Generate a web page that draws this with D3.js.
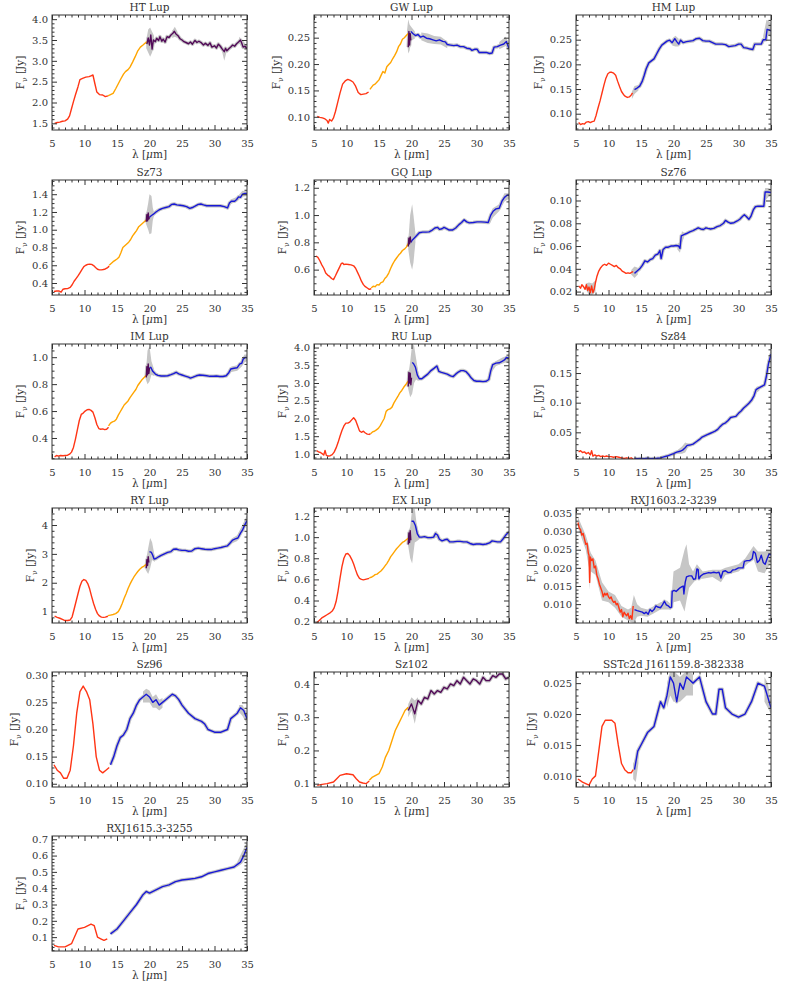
<!DOCTYPE html>
<html>
<head>
<meta charset="utf-8">
<script src="https://cdn.jsdelivr.net/npm/d3@7"></script>
<style>
  body { margin: 0; background: #fff; }
  text { font-family: "DejaVu Serif", serif; fill: #333; }
</style>
</head>
<body>
<div class="chart"></div>
<script>
// IRS spectra of Lupus sources, one small panel per star

// ---- data: [lambda, flux] per spectral module; bands are patches of [lambda, lo, hi] ----
var xTicks = [5, 10, 15, 20, 25, 30, 35];

// HT Lup
var htTicks = [1.5, 2.0, 2.5, 3.0, 3.5, 4.0];
var htRed = [[5.4,1.50],[5.8,1.52],[6.2,1.53],[6.6,1.55],[7.0,1.56],[7.4,1.60],[7.7,1.68],[8.0,1.85],[8.3,2.02],[8.6,2.18],[9.0,2.38],[9.3,2.55],[9.7,2.58],[10.2,2.61],[10.7,2.62],[11.0,2.64],[11.3,2.66],[11.6,2.45],[11.9,2.25],[12.3,2.19],[12.8,2.18],[13.2,2.14],[13.6,2.16]];
var htOrange = [[13.6,2.16],[14.0,2.19],[14.4,2.22],[14.8,2.33],[15.2,2.45],[15.6,2.57],[16.0,2.68],[16.3,2.74],[16.7,2.79],[17.0,2.85],[17.4,2.97],[17.8,3.10],[18.2,3.24],[18.6,3.33],[19.0,3.38],[19.3,3.42],[19.6,3.46]];
var htPurple = [[19.6,3.40],[19.8,3.55],[20.0,3.38],[20.2,3.62],[20.4,3.28],[20.6,3.50],[20.9,3.46],[21.1,3.54],[21.4,3.49],[21.6,3.58],[21.9,3.47],[22.1,3.52],[22.4,3.45],[22.7,3.58],[23.0,3.56],[23.3,3.62],[23.6,3.66],[23.8,3.71],[24.1,3.64],[24.4,3.60],[24.7,3.53],[25.0,3.50],[25.3,3.46],[25.6,3.44],[26.0,3.41],[26.3,3.45],[26.6,3.40],[27.0,3.49],[27.3,3.44],[27.6,3.47],[28.0,3.43],[28.3,3.38],[28.6,3.42],[29.0,3.37],[29.3,3.43],[29.6,3.33],[30.0,3.36],[30.3,3.31],[30.6,3.40],[30.9,3.35],[31.2,3.28],[31.5,3.22],[31.7,3.30],[31.9,3.24],[32.2,3.29],[32.5,3.33],[32.8,3.38],[33.1,3.35],[33.4,3.41],[33.7,3.45],[34.0,3.50],[34.2,3.42],[34.4,3.33],[34.7,3.35],[35.0,3.29]];
var htBand = [
  [[19.5,3.3,3.5],[19.8,3.2,3.75],[20.1,3.1,3.8],[20.4,3.2,3.7],[20.7,3.4,3.6]],
  [[23.5,3.55,3.72],[23.9,3.58,3.82],[24.3,3.55,3.7]],
  [[31.2,3.2,3.32],[31.5,3.0,3.3],[31.8,3.18,3.32]],
  [[33.8,3.42,3.58],[34.3,3.3,3.5],[34.8,3.25,3.4]]
];

// GW Lup
var gwTicks = [0.10, 0.15, 0.20, 0.25];
var gwRed = [[5.5,0.101],[5.9,0.099],[6.3,0.098],[6.7,0.096],[7.0,0.093],[7.2,0.088],[7.4,0.095],[7.7,0.092],[8.0,0.098],[8.3,0.110],[8.6,0.125],[9.0,0.145],[9.4,0.162],[9.8,0.168],[10.2,0.171],[10.6,0.169],[11.0,0.166],[11.4,0.158],[11.8,0.146],[12.2,0.142],[12.6,0.143],[13.0,0.144],[13.4,0.147]];
var gwOrange = [[13.6,0.152],[14.1,0.160],[14.4,0.162],[14.7,0.166],[15.0,0.170],[15.3,0.178],[15.6,0.186],[15.9,0.183],[16.2,0.195],[16.5,0.199],[16.8,0.203],[17.1,0.210],[17.4,0.216],[17.7,0.223],[18.0,0.233],[18.3,0.238],[18.6,0.247],[18.9,0.250],[19.2,0.254],[19.5,0.258]];
var gwPurple = [[19.5,0.232],[19.6,0.262],[19.7,0.236],[19.8,0.258],[19.9,0.245]];
var gwBlue = [[19.9,0.262],[20.2,0.258],[20.6,0.254],[21.0,0.256],[21.4,0.251],[21.8,0.253],[22.3,0.249],[22.8,0.248],[23.3,0.246],[23.8,0.244],[24.3,0.246],[24.8,0.243],[25.2,0.242],[25.5,0.237],[26.0,0.236],[26.5,0.235],[27.0,0.236],[27.5,0.233],[28.0,0.233],[28.5,0.230],[29.0,0.229],[29.3,0.226],[29.7,0.228],[30.1,0.228],[30.4,0.222],[31.0,0.222],[31.5,0.222],[32.0,0.220],[32.4,0.221],[32.7,0.232],[33.2,0.233],[33.7,0.236],[34.2,0.238],[34.6,0.243],[35.0,0.229]];
var gwBand = [
  [[19.3,0.245,0.262],[19.5,0.22,0.285],[19.7,0.225,0.275],[20.0,0.245,0.27],[20.5,0.248,0.262]],
  [[21.5,0.245,0.26],[22.5,0.24,0.258],[23.5,0.238,0.253],[24.5,0.237,0.252],[25.5,0.23,0.243]],
  [[33.5,0.228,0.242],[34.5,0.234,0.252],[35,0.222,0.237]]
];

// HM Lup
var hmTicks = [0.10, 0.15, 0.20, 0.25];
var hmRed = [[5.4,0.082],[5.7,0.078],[6.0,0.080],[6.3,0.079],[6.6,0.083],[6.9,0.084],[7.2,0.082],[7.5,0.084],[7.8,0.085],[8.1,0.097],[8.4,0.112],[8.7,0.126],[9.0,0.142],[9.3,0.158],[9.6,0.172],[9.9,0.181],[10.2,0.184],[10.5,0.184],[10.8,0.182],[11.1,0.178],[11.4,0.166],[11.7,0.155],[12.0,0.145],[12.3,0.139],[12.6,0.135],[12.9,0.133],[13.2,0.134],[13.5,0.138],[13.7,0.142]];
var hmBlue = [[14.0,0.149],[14.4,0.152],[14.8,0.156],[15.2,0.166],[15.5,0.178],[15.8,0.191],[16.2,0.203],[16.6,0.207],[17.0,0.211],[17.4,0.221],[17.8,0.231],[18.2,0.239],[18.6,0.243],[19.0,0.247],[19.4,0.249],[19.8,0.244],[20.2,0.252],[20.5,0.246],[20.8,0.241],[21.1,0.249],[21.5,0.244],[22.0,0.246],[22.5,0.247],[23.0,0.248],[23.5,0.252],[24.0,0.253],[24.5,0.248],[25.0,0.247],[25.5,0.247],[26.0,0.244],[26.5,0.241],[27.0,0.241],[27.5,0.241],[28.0,0.240],[28.5,0.236],[29.0,0.237],[29.5,0.238],[30.0,0.241],[30.4,0.241],[30.8,0.234],[31.3,0.233],[31.8,0.231],[32.2,0.230],[32.5,0.241],[33.0,0.241],[33.5,0.241],[33.8,0.250],[34.2,0.250],[34.4,0.271],[34.7,0.270],[35.0,0.268]];
var hmBand = [
  [[13.6,0.13,0.145],[14.0,0.14,0.156],[14.6,0.147,0.158]],
  [[19.8,0.238,0.252],[20.3,0.236,0.258],[20.8,0.236,0.252]],
  [[33.8,0.24,0.258],[34.3,0.255,0.29],[34.7,0.258,0.288],[35.0,0.255,0.282]]
];

// Sz73
var s73Ticks = [0.4, 0.6, 0.8, 1.0, 1.2, 1.4];
var s73Red = [[5.3,0.305],[5.7,0.31],[6.1,0.31],[6.4,0.297],[6.7,0.33],[7.0,0.335],[7.4,0.337],[7.8,0.35],[8.1,0.38],[8.4,0.42],[8.7,0.45],[9.0,0.48],[9.3,0.515],[9.6,0.55],[9.9,0.585],[10.2,0.60],[10.5,0.61],[10.8,0.613],[11.1,0.61],[11.4,0.596],[11.7,0.575],[12.0,0.555],[12.3,0.548],[12.6,0.548],[12.9,0.552],[13.2,0.558],[13.5,0.57],[13.8,0.59]];
var s73Orange = [[13.8,0.60],[14.1,0.62],[14.4,0.64],[14.7,0.655],[15.0,0.67],[15.3,0.69],[15.6,0.74],[15.9,0.80],[16.2,0.82],[16.5,0.84],[16.8,0.86],[17.1,0.89],[17.4,0.93],[17.7,0.96],[18.0,0.99],[18.3,1.03],[18.6,1.05],[18.9,1.07],[19.2,1.09],[19.5,1.11]];
var s73Purple = [[19.5,1.09],[19.6,1.17],[19.7,1.10],[19.8,1.19],[19.9,1.12],[20.0,1.14]];
var s73Blue = [[20.0,1.14],[20.3,1.16],[20.6,1.175],[21.0,1.20],[21.5,1.225],[22.0,1.24],[22.5,1.25],[23.0,1.26],[23.4,1.285],[23.8,1.29],[24.2,1.28],[24.7,1.275],[25.2,1.27],[25.7,1.26],[26.2,1.24],[26.6,1.25],[27.0,1.265],[27.5,1.285],[27.9,1.29],[28.3,1.28],[28.8,1.27],[29.5,1.27],[30.2,1.27],[30.9,1.27],[31.5,1.26],[32.0,1.245],[32.3,1.30],[32.6,1.32],[33.1,1.32],[33.4,1.34],[33.7,1.37],[34.0,1.365],[34.3,1.40],[34.7,1.41],[35.0,1.405]];
var s73Band = [
  [[19.4,1.08,1.14],[19.8,1.0,1.3],[20.0,0.95,1.4],[20.3,0.96,1.38],[20.5,1.1,1.25],[20.7,1.16,1.19]],
  [[32.0,1.23,1.26],[32.5,1.29,1.34],[33.5,1.32,1.37],[34.3,1.37,1.44],[35.0,1.38,1.43]]
];

// GQ Lup
var gqTicks = [0.6, 0.8, 1.0, 1.2];
var gqRed = [[5.3,0.70],[5.6,0.69],[5.9,0.665],[6.2,0.635],[6.5,0.61],[6.8,0.575],[7.1,0.56],[7.4,0.55],[7.7,0.535],[8.0,0.527],[8.3,0.555],[8.6,0.585],[8.9,0.615],[9.2,0.645],[9.4,0.648],[9.6,0.638],[9.9,0.64],[10.3,0.638],[10.7,0.635],[11.1,0.628],[11.4,0.61],[11.7,0.58],[12.0,0.55],[12.3,0.515],[12.6,0.49],[12.9,0.475],[13.2,0.465],[13.5,0.455],[13.8,0.46]];
var gqOrange = [[13.8,0.465],[14.1,0.478],[14.4,0.475],[14.7,0.49],[15.0,0.487],[15.3,0.505],[15.6,0.51],[15.9,0.535],[16.2,0.55],[16.5,0.575],[16.8,0.61],[17.1,0.64],[17.4,0.665],[17.7,0.685],[18.0,0.705],[18.3,0.72],[18.6,0.74],[18.9,0.75],[19.2,0.765],[19.5,0.79]];
var gqPurple = [[19.5,0.77],[19.6,0.83],[19.7,0.79],[19.8,0.84],[19.9,0.80]];
var gqBlue = [[19.9,0.80],[20.1,0.815],[20.4,0.83],[20.8,0.85],[21.2,0.87],[21.7,0.875],[22.2,0.875],[22.7,0.877],[23.2,0.89],[23.6,0.905],[24.0,0.91],[24.3,0.895],[24.7,0.90],[25.0,0.91],[25.4,0.9],[25.8,0.89],[26.3,0.89],[26.8,0.905],[27.3,0.93],[27.7,0.945],[28.1,0.965],[28.5,0.95],[28.9,0.943],[29.5,0.945],[30.1,0.95],[30.7,0.95],[31.3,0.948],[31.8,0.945],[32.2,1.0],[32.6,1.03],[33.0,1.045],[33.5,1.05],[33.9,1.1],[34.3,1.13],[34.7,1.145],[35.0,1.145]];
var gqBand = [
  [[19.5,0.75,0.81],[19.8,0.65,1.0],[20.1,0.6,1.08],[20.3,0.65,1.0],[20.6,0.8,0.87]],
  [[32.0,0.93,0.99],[32.5,0.98,1.05],[33.5,1.03,1.08],[34.3,1.1,1.16],[35.0,1.12,1.16]]
];

// Sz76
var s76Ticks = [0.02, 0.04, 0.06, 0.08, 0.10];
var s76Red = [[5.4,0.025],[5.7,0.023],[5.9,0.026],[6.2,0.024],[6.4,0.022],[6.6,0.026],[6.8,0.021],[7.0,0.024],[7.2,0.019],[7.4,0.025],[7.6,0.019],[7.8,0.022],[8.0,0.028],[8.2,0.033],[8.5,0.038],[8.8,0.041],[9.1,0.043],[9.4,0.044],[9.7,0.043],[10.0,0.045],[10.3,0.044],[10.6,0.043],[10.9,0.042],[11.2,0.043],[11.5,0.041],[11.8,0.040],[12.1,0.038],[12.4,0.037],[12.7,0.036],[13.0,0.0365],[13.3,0.036],[13.6,0.037],[13.8,0.0375]];
var s76Blue = [[14.0,0.036],[14.4,0.038],[14.8,0.040],[15.2,0.043],[15.6,0.047],[16.0,0.046],[16.4,0.048],[16.8,0.049],[17.2,0.052],[17.6,0.053],[17.9,0.056],[18.1,0.049],[18.4,0.057],[18.8,0.059],[19.2,0.059],[19.6,0.060],[20.0,0.060],[20.4,0.0605],[20.8,0.060],[21.0,0.058],[21.2,0.069],[21.6,0.070],[22.0,0.071],[22.5,0.0725],[23.0,0.0735],[23.5,0.075],[23.8,0.076],[24.2,0.075],[24.6,0.0745],[25.0,0.076],[25.3,0.0755],[25.7,0.075],[26.2,0.0755],[26.7,0.077],[27.2,0.078],[27.7,0.080],[28.0,0.0825],[28.4,0.081],[28.8,0.080],[29.3,0.0805],[29.8,0.082],[30.2,0.0835],[30.6,0.086],[30.9,0.0875],[31.2,0.086],[31.6,0.0835],[31.9,0.086],[32.3,0.092],[32.6,0.0945],[33.0,0.095],[33.5,0.095],[33.9,0.095],[34.1,0.1075],[34.5,0.1075],[35.0,0.107]];
var s76Band = [
  [[6.5,0.022,0.027],[7.0,0.017,0.028],[7.5,0.017,0.027],[8.0,0.02,0.03]],
  [[13.5,0.035,0.039],[14.0,0.032,0.042],[14.5,0.035,0.041]],
  [[20.6,0.057,0.062],[21.0,0.054,0.063],[21.3,0.063,0.073],[21.6,0.067,0.072]],
  [[33.8,0.092,0.098],[34.1,0.1,0.111],[34.6,0.103,0.111],[35,0.104,0.11]]
];

// IM Lup
var imTicks = [0.4, 0.6, 0.8, 1.0];
var imRed = [[5.4,0.26],[5.7,0.27],[6.0,0.265],[6.3,0.27],[6.7,0.268],[7.0,0.27],[7.4,0.272],[7.7,0.28],[8.0,0.295],[8.3,0.33],[8.6,0.39],[8.9,0.46],[9.2,0.53],[9.5,0.575],[9.8,0.585],[10.1,0.60],[10.4,0.61],[10.7,0.612],[11.0,0.605],[11.3,0.592],[11.6,0.55],[11.9,0.50],[12.2,0.47],[12.5,0.465],[12.8,0.468],[13.1,0.462],[13.4,0.465],[13.7,0.48]];
var imOrange = [[13.7,0.49],[14.0,0.51],[14.3,0.52],[14.6,0.525],[14.9,0.54],[15.2,0.57],[15.5,0.595],[15.8,0.62],[16.1,0.645],[16.4,0.66],[16.7,0.675],[17.0,0.70],[17.3,0.72],[17.6,0.74],[17.9,0.76],[18.2,0.79],[18.5,0.81],[18.8,0.83],[19.1,0.845],[19.4,0.86],[19.6,0.868]];
var imPurple = [[19.5,0.85],[19.6,0.93],[19.7,0.87],[19.8,0.95],[19.9,0.88],[20.0,0.92]];
var imBlue = [[20.0,0.92],[20.2,0.925],[20.5,0.895],[20.9,0.875],[21.3,0.865],[21.8,0.86],[22.3,0.86],[22.8,0.862],[23.3,0.87],[23.7,0.878],[24.1,0.888],[24.5,0.876],[25.0,0.868],[25.5,0.86],[26.0,0.852],[26.3,0.845],[26.7,0.852],[27.2,0.862],[27.7,0.868],[28.2,0.866],[28.8,0.862],[29.3,0.858],[29.8,0.858],[30.3,0.86],[30.8,0.857],[31.3,0.857],[31.8,0.862],[32.2,0.885],[32.5,0.912],[33.0,0.918],[33.5,0.922],[33.9,0.95],[34.2,0.955],[34.4,0.985],[34.7,0.998],[35.0,0.997]];
var imBand = [
  [[19.4,0.84,0.87],[19.7,0.8,1.05],[20.0,0.82,1.08],[20.3,0.87,0.97],[20.7,0.86,0.91]],
  [[32.2,0.87,0.9],[32.6,0.89,0.93],[33.5,0.9,0.94],[34.2,0.93,0.98],[34.6,0.96,1.02],[35,0.97,1.02]]
];

// RU Lup
var ruTicks = [1.0, 1.5, 2.0, 2.5, 3.0, 3.5, 4.0];
var ruRed = [[5.4,1.09],[5.7,1.06],[6.0,1.04],[6.3,1.0],[6.5,0.97],[6.7,1.10],[6.9,0.96],[7.2,0.94],[7.5,0.95],[7.8,0.98],[8.1,1.05],[8.4,1.17],[8.7,1.32],[9.0,1.50],[9.3,1.66],[9.6,1.79],[9.9,1.87],[10.2,1.87],[10.5,1.90],[10.8,1.96],[11.1,2.02],[11.4,1.95],[11.7,1.80],[12.0,1.65],[12.3,1.61],[12.6,1.64],[12.9,1.59],[13.2,1.56],[13.5,1.55],[13.7,1.57]];
var ruOrange = [[13.7,1.57],[14.0,1.62],[14.3,1.64],[14.6,1.68],[14.9,1.72],[15.2,1.80],[15.5,1.90],[15.8,2.0],[16.1,2.2],[16.4,2.25],[16.7,2.27],[17.0,2.32],[17.3,2.44],[17.6,2.53],[17.9,2.62],[18.2,2.72],[18.5,2.79],[18.8,2.88],[19.1,2.95],[19.4,3.03],[19.6,3.07]];
var ruPurple = [[19.5,2.9],[19.6,3.3],[19.7,3.0],[19.8,3.28],[19.9,2.95],[20.0,3.15]];
var ruBlue = [[20.1,3.58],[20.3,3.55],[20.6,3.45],[20.9,3.22],[21.2,3.12],[21.6,3.12],[22.0,3.18],[22.5,3.25],[23.0,3.35],[23.5,3.42],[23.9,3.48],[24.2,3.33],[24.6,3.30],[25.0,3.28],[25.5,3.25],[26.0,3.20],[26.4,3.18],[26.8,3.25],[27.2,3.31],[27.6,3.35],[28.0,3.35],[28.4,3.32],[28.8,3.24],[29.2,3.14],[29.6,3.07],[30.0,3.05],[30.5,3.05],[31.0,3.04],[31.5,3.05],[31.9,3.10],[32.2,3.35],[32.5,3.52],[33.0,3.56],[33.5,3.57],[34.0,3.62],[34.3,3.65],[34.6,3.72],[35.0,3.70]];
var ruBand = [
  [[19.4,2.9,3.1],[19.8,2.6,3.6],[20.1,2.7,4.1],[20.4,3.0,4.05],[20.7,3.1,3.7],[21.1,3.05,3.25]],
  [[32.3,3.3,3.5],[33,3.48,3.62],[34,3.55,3.72],[35,3.6,3.78]]
];

// Sz84
var s84Ticks = [0.05, 0.10, 0.15];
var s84Red = [[5.4,0.017],[5.7,0.019],[6.0,0.016],[6.3,0.017],[6.6,0.014],[6.9,0.016],[7.2,0.012],[7.4,0.019],[7.6,0.010],[7.9,0.012],[8.2,0.010],[8.5,0.011],[8.8,0.009],[9.1,0.010],[9.4,0.009],[9.7,0.010],[10.0,0.009],[10.4,0.009],[10.8,0.008],[11.2,0.009],[11.6,0.008],[12.0,0.007],[12.4,0.006],[12.8,0.007],[13.2,0.006],[13.5,0.007],[13.8,0.005]];
var s84Blue = [[14.0,0.006],[14.5,0.0055],[15.0,0.006],[15.5,0.0055],[16.0,0.0065],[16.5,0.0055],[17.0,0.006],[17.5,0.0062],[18.0,0.0068],[18.5,0.0085],[19.0,0.010],[19.5,0.012],[20.0,0.014],[20.5,0.0165],[21.0,0.018],[21.4,0.020],[21.8,0.024],[22.1,0.028],[22.5,0.0285],[23.0,0.030],[23.5,0.034],[24.0,0.038],[24.4,0.042],[24.8,0.044],[25.2,0.046],[25.6,0.048],[26.0,0.050],[26.4,0.052],[26.8,0.055],[27.2,0.060],[27.6,0.064],[28.0,0.066],[28.4,0.070],[28.8,0.075],[29.2,0.076],[29.6,0.077],[30.0,0.082],[30.4,0.086],[30.8,0.091],[31.2,0.095],[31.6,0.099],[32.0,0.104],[32.4,0.112],[32.7,0.122],[33.0,0.124],[33.5,0.127],[34.0,0.13],[34.3,0.145],[34.6,0.165],[35.0,0.182]];
var s84Band = [
  [[20.5,0.014,0.019],[21.3,0.014,0.026],[21.8,0.016,0.033],[22.2,0.024,0.031],[22.5,0.026,0.03]],
  [[32.3,0.108,0.118],[32.8,0.117,0.127],[33.2,0.12,0.128]],
  [[34.0,0.126,0.135],[34.5,0.15,0.172],[35,0.172,0.19]]
];

// RY Lup
var ryTicks = [1, 2, 3, 4];
var ryRed = [[5.4,0.84],[5.8,0.80],[6.2,0.77],[6.6,0.73],[7.0,0.69],[7.4,0.69],[7.8,0.71],[8.1,0.82],[8.4,1.08],[8.7,1.35],[9.0,1.62],[9.3,1.88],[9.6,2.05],[9.9,2.11],[10.2,2.08],[10.5,1.97],[10.8,1.78],[11.1,1.52],[11.4,1.28],[11.7,1.08],[12.0,0.93],[12.3,0.85],[12.6,0.81],[12.9,0.80],[13.2,0.81],[13.6,0.84]];
var ryOrange = [[13.6,0.86],[14.0,0.88],[14.4,0.90],[14.8,0.93],[15.2,1.0],[15.5,1.12],[15.8,1.28],[16.1,1.46],[16.4,1.62],[16.7,1.8],[17.0,1.95],[17.3,2.08],[17.6,2.2],[17.9,2.3],[18.2,2.39],[18.5,2.47],[18.8,2.53],[19.1,2.57],[19.4,2.62],[19.6,2.66]];
var ryPurple = [[19.5,2.5],[19.6,2.8],[19.7,2.6],[19.8,2.9],[19.9,2.7]];
var ryBlue = [[20.0,3.08],[20.3,3.05],[20.5,2.95],[20.7,2.82],[21.0,2.84],[21.4,2.9],[21.8,2.95],[22.3,3.0],[22.8,3.05],[23.3,3.08],[23.7,3.16],[24.1,3.17],[24.5,3.14],[25.0,3.12],[25.5,3.12],[26.0,3.09],[26.5,3.1],[27.0,3.18],[27.5,3.2],[28.0,3.18],[28.5,3.16],[29.0,3.15],[29.5,3.15],[30.0,3.18],[30.5,3.2],[31.0,3.22],[31.5,3.25],[32.0,3.28],[32.4,3.38],[32.8,3.48],[33.2,3.52],[33.6,3.55],[34.0,3.72],[34.3,3.82],[34.6,3.98],[35.0,4.15]];
var ryBand = [
  [[19.4,2.45,2.7],[19.8,2.3,3.2],[20.1,2.5,3.55],[20.4,2.8,3.4],[20.8,2.72,2.92]],
  [[32.2,3.25,3.35],[32.8,3.38,3.55],[33.5,3.45,3.65],[34.5,3.85,4.1],[35,4.0,4.35]]
];

// EX Lup
var exTicks = [0.2, 0.4, 0.6, 0.8, 1.0, 1.2];
var exRed = [[5.4,0.19],[5.8,0.21],[6.2,0.235],[6.6,0.25],[7.0,0.265],[7.4,0.28],[7.8,0.30],[8.1,0.33],[8.4,0.39],[8.7,0.49],[9.0,0.61],[9.3,0.72],[9.6,0.80],[9.9,0.84],[10.2,0.845],[10.5,0.825],[10.8,0.79],[11.1,0.745],[11.4,0.69],[11.7,0.64],[12.0,0.61],[12.3,0.60],[12.6,0.595],[12.9,0.60],[13.2,0.605],[13.5,0.61]];
var exOrange = [[13.5,0.615],[13.8,0.62],[14.1,0.63],[14.4,0.645],[14.7,0.65],[15.0,0.665],[15.3,0.68],[15.6,0.70],[15.9,0.725],[16.2,0.75],[16.5,0.78],[16.8,0.815],[17.1,0.84],[17.4,0.865],[17.7,0.89],[18.0,0.91],[18.3,0.93],[18.6,0.95],[18.9,0.96],[19.2,0.975],[19.5,0.99]];
var exPurple = [[19.5,0.93],[19.6,1.04],[19.7,0.95],[19.8,1.06],[19.9,0.97]];
var exBlue = [[20.0,1.15],[20.3,1.15],[20.6,1.11],[20.9,1.03],[21.2,1.0],[21.6,1.0],[22.0,1.005],[22.5,0.995],[23.0,0.995],[23.4,1.0],[23.7,1.035],[24.0,1.02],[24.3,0.98],[24.7,0.965],[25.1,0.975],[25.5,0.98],[25.9,0.955],[26.4,0.955],[27.0,0.96],[27.5,0.96],[28.0,0.955],[28.5,0.955],[29.0,0.94],[29.5,0.93],[30.0,0.935],[30.5,0.935],[31.0,0.93],[31.5,0.935],[32.0,0.945],[32.4,0.965],[32.8,0.96],[33.2,0.955],[33.7,0.955],[34.1,0.985],[34.5,1.02],[35.0,1.05]];
var exBand = [
  [[19.4,0.95,1.02],[19.8,0.8,1.1],[20.1,0.75,1.27],[20.5,0.95,1.27],[20.8,0.96,1.12],[21.2,0.98,1.02]],
  [[23.5,0.99,1.03],[23.8,1.0,1.06],[24.1,0.98,1.03]]
];

// RXJ1603.2-3239
var rx3Ticks = [0.010, 0.015, 0.020, 0.025, 0.030, 0.035];
var rx3Red = [[5.3,0.0325],[5.5,0.031],[5.7,0.0305],[5.9,0.029],[6.1,0.0295],[6.3,0.028],[6.5,0.0265],[6.7,0.0268],[6.9,0.024],[7.0,0.0235],[7.1,0.016],[7.2,0.023],[7.4,0.022],[7.6,0.0225],[7.8,0.020],[8.0,0.0205],[8.2,0.018],[8.4,0.017],[8.6,0.0155],[8.8,0.0145],[9.0,0.0135],[9.2,0.012],[9.4,0.013],[9.6,0.0125],[9.8,0.013],[10.0,0.012],[10.2,0.0115],[10.4,0.012],[10.6,0.011],[10.8,0.0105],[11.0,0.0108],[11.2,0.0098],[11.4,0.0102],[11.6,0.009],[11.8,0.0078],[12.0,0.0085],[12.2,0.0065],[12.4,0.0078],[12.6,0.0072],[12.8,0.0068],[13.0,0.0075],[13.2,0.006],[13.4,0.0068],[13.6,0.0058],[13.8,0.0095]];
var rx3Blue = [[14.0,0.0085],[14.4,0.0082],[14.8,0.008],[15.2,0.0078],[15.5,0.0074],[15.8,0.0078],[16.1,0.0072],[16.4,0.0085],[16.7,0.008],[17.0,0.0085],[17.3,0.0095],[17.6,0.0092],[18.0,0.009],[18.3,0.0098],[18.6,0.0108],[18.9,0.0098],[19.2,0.0095],[19.5,0.009],[19.7,0.0092],[19.8,0.0135],[20.1,0.0138],[20.4,0.0135],[20.7,0.014],[21.0,0.0145],[21.3,0.0148],[21.5,0.015],[21.6,0.0128],[21.8,0.016],[22.0,0.0175],[22.4,0.0178],[22.8,0.0178],[23.1,0.0168],[23.4,0.017],[23.6,0.0197],[23.8,0.0195],[23.9,0.017],[24.2,0.0178],[24.6,0.0183],[25.0,0.0185],[25.4,0.0187],[25.8,0.0186],[26.2,0.0188],[26.6,0.0186],[27.0,0.0188],[27.3,0.0172],[27.6,0.019],[28.0,0.0192],[28.4,0.0187],[28.8,0.0188],[29.1,0.0194],[29.5,0.0195],[30.0,0.020],[30.4,0.020],[30.7,0.020],[30.9,0.0218],[31.3,0.022],[31.7,0.022],[32.1,0.0225],[32.3,0.0245],[32.6,0.024],[32.9,0.0215],[33.2,0.022],[33.5,0.0235],[33.8,0.0215],[34.1,0.021],[34.4,0.0225],[34.7,0.0238],[35.0,0.0236]];
var rx3Band = [
  [[5.3,0.031,0.034],[6.5,0.025,0.029],[7.0,0.02,0.026],[7.1,0.014,0.025],[7.3,0.019,0.024],[8,0.018,0.022],[9,0.011,0.016],[10,0.0105,0.0135],[11,0.009,0.0125],[12,0.0065,0.0095],[13,0.0055,0.0085],[13.5,0.005,0.009],[13.9,0.0048,0.0125],[14.4,0.0065,0.010],[15,0.0068,0.009],[16,0.0065,0.0085],[17,0.0075,0.0095],[18,0.0085,0.0105],[19,0.0085,0.011],[19.6,0.0085,0.010],[20,0.0105,0.019],[21,0.011,0.02],[21.7,0.008,0.025],[22,0.011,0.0265],[22.4,0.0145,0.021],[23,0.0158,0.019],[23.6,0.017,0.021],[24.5,0.017,0.019],[26,0.0175,0.0195],[27.3,0.016,0.0195],[28,0.018,0.020],[30,0.019,0.021],[31,0.0205,0.0225],[32.3,0.0225,0.026],[33,0.019,0.0245],[34,0.0185,0.0245],[35,0.0215,0.025]]
];

// Sz96
var s96Ticks = [0.10, 0.15, 0.20, 0.25, 0.30];
var s96Red = [[5.3,0.135],[5.8,0.125],[6.3,0.12],[6.8,0.11],[7.3,0.11],[7.8,0.125],[8.3,0.17],[8.8,0.23],[9.3,0.27],[9.8,0.28],[10.3,0.27],[10.8,0.255],[11.3,0.21],[11.8,0.15],[12.3,0.125],[12.8,0.12],[13.3,0.125],[13.8,0.13]];
var s96Blue = [[14.0,0.135],[14.5,0.15],[15.0,0.17],[15.5,0.185],[16.0,0.19],[16.5,0.2],[17.0,0.22],[17.5,0.23],[18.0,0.245],[18.5,0.255],[19.0,0.26],[19.5,0.265],[20.0,0.26],[20.5,0.25],[21.0,0.255],[21.5,0.245],[22.0,0.25],[22.5,0.255],[23.0,0.26],[23.5,0.265],[24.0,0.262],[24.5,0.255],[25.0,0.245],[26.0,0.23],[27.0,0.22],[28.0,0.215],[28.5,0.21],[29.0,0.2],[30.0,0.195],[31.0,0.195],[32.0,0.2],[32.5,0.22],[33.0,0.225],[33.5,0.23],[34.0,0.24],[34.5,0.235],[35.0,0.22]];
var s96Band = [
  [[19,0.25,0.27],[19.5,0.25,0.275],[20,0.25,0.272],[20.5,0.24,0.26],[21,0.24,0.265],[21.5,0.235,0.255],[22,0.24,0.258]],
  [[33.8,0.232,0.245],[34.3,0.225,0.245],[35,0.21,0.23]]
];

// Sz102
var s102Ticks = [0.1, 0.2, 0.3, 0.4];
var s102Red = [[5.5,0.095],[6.0,0.097],[7.0,0.1],[8.0,0.105],[8.5,0.115],[9.0,0.125],[10.0,0.13],[11.0,0.127],[11.5,0.115],[12.0,0.105],[12.5,0.102],[13.0,0.1],[13.5,0.108]];
var s102Orange = [[13.5,0.11],[14.0,0.12],[15.0,0.13],[15.5,0.15],[16.0,0.18],[16.5,0.2],[17.0,0.23],[17.5,0.26],[18.0,0.28],[18.5,0.3],[19.0,0.32],[19.5,0.33]];
var s102Purple = [[19.5,0.32],[20.0,0.34],[20.5,0.31],[21.0,0.35],[21.5,0.34],[22.0,0.36],[22.5,0.355],[23.0,0.38],[23.5,0.37],[24.0,0.38],[24.5,0.375],[25.0,0.39],[25.5,0.385],[26.0,0.4],[26.5,0.395],[27.0,0.41],[27.5,0.40],[28.0,0.42],[28.5,0.41],[29.0,0.4],[29.5,0.415],[30.0,0.41],[30.5,0.40],[31.0,0.42],[31.5,0.41],[32.0,0.41],[32.5,0.425],[33.0,0.42],[33.5,0.43],[34.0,0.43],[34.5,0.415],[35.0,0.42]];
var s102Band = [[[19.5,0.3,0.34],[20,0.32,0.36],[20.5,0.28,0.35],[21,0.33,0.36]]];

// SSTc2d J161159.8-382338
var sstTicks = [0.010, 0.015, 0.020, 0.025];
var sstRed = [[5.3,0.0095],[6.0,0.009],[7.0,0.0085],[7.5,0.0095],[8.0,0.01],[8.5,0.014],[9.0,0.018],[9.5,0.019],[10.0,0.019],[10.5,0.019],[11.0,0.0185],[11.5,0.015],[12.0,0.012],[12.5,0.011],[13.0,0.0105],[13.5,0.0105],[13.8,0.011]];
var sstBlue = [[14.0,0.011],[14.5,0.014],[15.0,0.015],[16.0,0.017],[17.0,0.018],[17.5,0.02],[18.0,0.022],[18.5,0.021],[19.0,0.023],[19.5,0.026],[20.0,0.025],[20.5,0.022],[21.0,0.025],[21.5,0.024],[22.0,0.026],[22.5,0.0255],[23.0,0.025],[24.0,0.026],[24.5,0.024],[25.0,0.022],[26.0,0.02],[26.5,0.02],[27.0,0.024],[27.5,0.024],[28.0,0.021],[29.0,0.02],[30.0,0.0195],[31.0,0.02],[32.0,0.022],[33.0,0.025],[34.0,0.0245],[35.0,0.021]];
var sstBand = [
  [[13.8,0.0095,0.012],[14.2,0.009,0.013],[14.6,0.012,0.015]],
  [[19,0.021,0.025],[19.5,0.023,0.027],[20,0.022,0.027],[21,0.022,0.026],[22,0.023,0.027],[23,0.023,0.0265]],
  [[34,0.022,0.026],[34.5,0.021,0.025],[35,0.02,0.022]]
];

// RXJ1615.3-3255
var rx5Ticks = [0.1, 0.2, 0.3, 0.4, 0.5, 0.6, 0.7];
var rx5Red = [[5.3,0.05],[6.0,0.04],[7.0,0.04],[8.0,0.06],[9.0,0.15],[10.0,0.16],[11.0,0.18],[11.5,0.17],[12.0,0.1],[12.5,0.09],[13.0,0.08],[13.5,0.09]];
var rx5Blue = [[14.0,0.12],[15.0,0.15],[16.0,0.2],[17.0,0.25],[18.0,0.3],[19.0,0.36],[19.5,0.38],[20.0,0.37],[21.0,0.39],[22.0,0.41],[23.0,0.42],[24.0,0.44],[25.0,0.45],[26.0,0.455],[27.0,0.46],[28.0,0.47],[29.0,0.49],[30.0,0.5],[31.0,0.51],[32.0,0.52],[33.0,0.53],[34.0,0.56],[34.5,0.6],[35.0,0.65]];
var rx5Band = [[[33.5,0.53,0.56],[34.2,0.55,0.62],[34.7,0.57,0.66],[35,0.6,0.68]]];

// panel table built from the arrays above
var panels = [
  {name: "HT Lup", y: [1.34, 4.10], ticks: htTicks, dec: 1, red: htRed, orange: htOrange, purple: htPurple, blue: [], band: htBand},
  {name: "GW Lup", y: [0.075, 0.293], ticks: gwTicks, dec: 2, red: gwRed, orange: gwOrange, purple: gwPurple, blue: gwBlue, band: gwBand},
  {name: "HM Lup", y: [0.067, 0.30], ticks: hmTicks, dec: 2, red: hmRed, orange: [], purple: [], blue: hmBlue, band: hmBand},
  {name: "Sz73", y: [0.265, 1.56], ticks: s73Ticks, dec: 1, red: s73Red, orange: s73Orange, purple: s73Purple, blue: s73Blue, band: s73Band},
  {name: "GQ Lup", y: [0.414, 1.257], ticks: gqTicks, dec: 1, red: gqRed, orange: gqOrange, purple: gqPurple, blue: gqBlue, band: gqBand},
  {name: "Sz76", y: [0.017, 0.118], ticks: s76Ticks, dec: 2, red: s76Red, orange: [], purple: [], blue: s76Blue, band: s76Band},
  {name: "IM Lup", y: [0.244, 1.098], ticks: imTicks, dec: 1, red: imRed, orange: imOrange, purple: imPurple, blue: imBlue, band: imBand},
  {name: "RU Lup", y: [0.857, 4.10], ticks: ruTicks, dec: 1, red: ruRed, orange: ruOrange, purple: ruPurple, blue: ruBlue, band: ruBand},
  {name: "Sz84", y: [0.005, 0.199], ticks: s84Ticks, dec: 2, red: s84Red, orange: [], purple: [], blue: s84Blue, band: s84Band},
  {name: "RY Lup", y: [0.605, 4.59], ticks: ryTicks, dec: 0, red: ryRed, orange: ryOrange, purple: ryPurple, blue: ryBlue, band: ryBand},
  {name: "EX Lup", y: [0.187, 1.276], ticks: exTicks, dec: 1, red: exRed, orange: exOrange, purple: exPurple, blue: exBlue, band: exBand},
  {name: "RXJ1603.2-3239", y: [0.0048, 0.0365], ticks: rx3Ticks, dec: 3, red: rx3Red, orange: [], purple: [], blue: rx3Blue, band: rx3Band},
  {name: "Sz96", y: [0.094, 0.306], ticks: s96Ticks, dec: 2, red: s96Red, orange: [], purple: [], blue: s96Blue, band: s96Band},
  {name: "Sz102", y: [0.09, 0.436], ticks: s102Ticks, dec: 1, red: s102Red, orange: s102Orange, purple: s102Purple, blue: [], band: s102Band},
  {name: "SSTc2d J161159.8-382338", y: [0.0082, 0.0268], ticks: sstTicks, dec: 3, red: sstRed, orange: [], purple: [], blue: sstBlue, band: sstBand},
  {name: "RXJ1615.3-3255", y: [0.015, 0.72], ticks: rx5Ticks, dec: 1, red: rx5Red, orange: [], purple: [], blue: rx5Blue, band: rx5Band}
];

// ---- layout ----
var svgWidth = 786;
var svgHeight = 984;
var colLeft = [52, 314, 576];
var rowTop = [15, 180, 344, 508, 672, 836];
var plotW = 195;
var plotH = 115;

var colors = {red: "#ff3515", orange: "#ffa500", purple: "#520a58", blue: "#1818d6"};
var bandColor = "#c6c6c6";
var axisColor = "#333";

var svg = d3.select(".chart")
  .append("svg")
  .attr("width", svgWidth)
  .attr("height", svgHeight);

var xMinor = d3.range(5, 36).filter(d => d % 5 !== 0);

function cleanAxis(sel) {
  sel.select(".domain").remove();
  sel.selectAll("line").attr("stroke", axisColor);
  sel.selectAll("text").attr("fill", axisColor).style("font-size", "10px");
}

panels.forEach(function(p, i) {
  var left = colLeft[i % 3];
  var top = rowTop[Math.floor(i / 3)];
  var g = svg.append("g").attr("transform", `translate(${left}, ${top})`);

  var xScale = d3.scaleLinear().domain([5, 35]).range([0, plotW]);
  var yScale = d3.scaleLinear().domain(p.y).range([plotH, 0]);

  // minor y ticks: 4 per interval when step is 2x10^n, else 5
  var step = p.ticks[1] - p.ticks[0];
  var mant = Math.round(step / Math.pow(10, Math.floor(Math.log10(step) + 1e-9)));
  var minorStep = mant === 2 ? step / 4 : step / 5;
  var yMinor = d3.range(Math.ceil(p.y[0] / minorStep - 1e-6) * minorStep, p.y[1], minorStep)
    .filter(v => p.ticks.every(t => Math.abs(t - v) > minorStep / 10));

  g.append("clipPath").attr("id", "clip" + i)
    .append("rect").attr("width", plotW).attr("height", plotH);
  var plot = g.append("g").attr("clip-path", `url(#clip${i})`);

  var line = d3.line().x(d => xScale(d[0])).y(d => yScale(d[1]));
  var area = d3.area().x(d => xScale(d[0])).y0(d => yScale(d[1])).y1(d => yScale(d[2]));

  // uncertainty patches
  p.band.forEach(function(patch) {
    plot.append("path").datum(patch)
      .attr("d", area)
      .attr("fill", bandColor);
  });

  // thin grey halo under the long-wavelength modules
  [p.purple, p.blue].forEach(function(seg) {
    if (!seg.length) return;
    plot.append("path").datum(seg)
      .attr("d", line)
      .attr("fill", "none")
      .attr("stroke", bandColor)
      .attr("stroke-width", 3.5)
      .attr("stroke-linejoin", "round");
  });

  [["red", p.red], ["orange", p.orange], ["blue", p.blue], ["purple", p.purple]].forEach(function(s) {
    if (!s[1].length) return;
    plot.append("path").datum(s[1])
      .attr("d", line)
      .attr("fill", "none")
      .attr("stroke", colors[s[0]])
      .attr("stroke-width", 1.4)
      .attr("stroke-linejoin", "round");
  });

  // axes, ticks pointing inwards on all four sides
  g.append("g").attr("transform", `translate(0, ${plotH})`)
    .call(d3.axisBottom(xScale).tickValues(xTicks).tickSize(-5).tickPadding(10).tickFormat(d3.format("d")))
    .call(cleanAxis);
  g.append("g").attr("transform", `translate(0, ${plotH})`)
    .call(d3.axisBottom(xScale).tickValues(xMinor).tickSize(-2.5).tickFormat(""))
    .call(cleanAxis);
  g.append("g")
    .call(d3.axisTop(xScale).tickValues(xTicks).tickSize(-5).tickFormat(""))
    .call(cleanAxis);
  g.append("g")
    .call(d3.axisTop(xScale).tickValues(xMinor).tickSize(-2.5).tickFormat(""))
    .call(cleanAxis);

  var leftAxis = g.append("g")
    .call(d3.axisLeft(yScale).tickValues(p.ticks).tickSize(-5).tickPadding(4).tickFormat(d3.format(`.${p.dec}f`)))
    .call(cleanAxis);
  g.append("g")
    .call(d3.axisLeft(yScale).tickValues(yMinor).tickSize(-2.5).tickFormat(""))
    .call(cleanAxis);
  g.append("g").attr("transform", `translate(${plotW}, 0)`)
    .call(d3.axisRight(yScale).tickValues(p.ticks).tickSize(-5).tickFormat(""))
    .call(cleanAxis);
  g.append("g").attr("transform", `translate(${plotW}, 0)`)
    .call(d3.axisRight(yScale).tickValues(yMinor).tickSize(-2.5).tickFormat(""))
    .call(cleanAxis);

  g.append("rect")
    .attr("width", plotW)
    .attr("height", plotH)
    .attr("fill", "none")
    .attr("stroke", axisColor)
    .attr("stroke-width", 1);

  // title
  g.append("text")
    .attr("x", plotW / 2)
    .attr("y", -4)
    .attr("text-anchor", "middle")
    .style("font-size", "10.5px")
    .text(p.name);

  // x label
  var xl = g.append("text")
    .attr("x", plotW / 2)
    .attr("y", plotH + 28)
    .attr("text-anchor", "middle")
    .style("font-size", "10.5px");
  xl.append("tspan").text("\u03bb [");
  xl.append("tspan").style("font-style", "italic").text("\u03bc");
  xl.append("tspan").text("m]");

  // y label sits just left of the widest tick label
  var maxW = d3.max(leftAxis.selectAll("text").nodes(), n => n.getBBox().width);
  var yl = g.append("text")
    .attr("transform", `translate(${-(maxW + 12)}, ${plotH / 2}) rotate(-90)`)
    .attr("text-anchor", "middle")
    .style("font-size", "10.5px");
  yl.append("tspan").text("F");
  yl.append("tspan").attr("dy", 3).style("font-size", "7.5px").text("\u03bd");
  yl.append("tspan").attr("dy", -3).text(" [Jy]");
});
</script>
</body>
</html>
